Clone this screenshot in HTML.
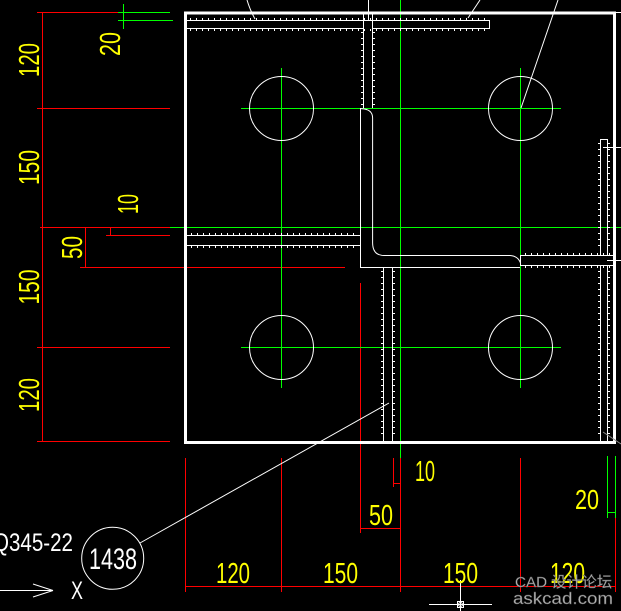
<!DOCTYPE html>
<html><head><meta charset="utf-8"><style>
html,body{margin:0;padding:0;background:#000;overflow:hidden;}
svg{display:block}
text{font-family:"Liberation Sans","Noto Sans CJK SC",sans-serif;}
</style></head><body>
<svg width="621" height="611" viewBox="0 0 621 611" xmlns="http://www.w3.org/2000/svg">
<rect width="621" height="611" fill="#000"/>
<g shape-rendering="crispEdges" stroke-width="1" fill="none">
<!-- left dimension -->
<g stroke="#ff0000">
<line x1="42.5" y1="12" x2="42.5" y2="442"/>
<line x1="37" y1="12.5" x2="118" y2="12.5"/>
<line x1="37" y1="108.5" x2="170" y2="108.5"/>
<line x1="37" y1="347.5" x2="170" y2="347.5"/>
<line x1="37" y1="441.5" x2="170" y2="441.5"/>
<line x1="40" y1="227.5" x2="170" y2="227.5"/>
<line x1="106" y1="235.5" x2="170" y2="235.5"/>
<line x1="110.5" y1="227" x2="110.5" y2="236"/>
<line x1="85.5" y1="227" x2="85.5" y2="268"/>
<line x1="80" y1="267.5" x2="345" y2="267.5"/>
<line x1="360.5" y1="283" x2="360.5" y2="533"/>
<line x1="360" y1="528.5" x2="400" y2="528.5"/>
<!-- bottom dimension -->
<line x1="185" y1="586.5" x2="616" y2="586.5"/>
<line x1="185.5" y1="458" x2="185.5" y2="592"/>
<line x1="281.5" y1="458" x2="281.5" y2="592"/>
<line x1="400.5" y1="458" x2="400.5" y2="592"/>
<line x1="520.5" y1="458" x2="520.5" y2="592"/>
<line x1="615.5" y1="518" x2="615.5" y2="592"/>
<line x1="393.5" y1="458" x2="393.5" y2="487"/>
<line x1="393" y1="483.5" x2="400" y2="483.5"/>
</g>
<!-- green lines -->
<g stroke="#00ff00">
<line x1="123.5" y1="4" x2="123.5" y2="29"/>
<line x1="118" y1="12.5" x2="170" y2="12.5"/>
<line x1="118" y1="20.5" x2="173" y2="20.5"/>
<line x1="170" y1="227.5" x2="621" y2="227.5"/>
<line x1="400.5" y1="0" x2="400.5" y2="458"/>
<line x1="520.5" y1="68" x2="520.5" y2="388"/>
<line x1="281.5" y1="68" x2="281.5" y2="388"/>
<line x1="241" y1="108.5" x2="561" y2="108.5"/>
<line x1="241" y1="347.5" x2="561" y2="347.5"/>
<line x1="607.5" y1="456" x2="607.5" y2="518"/>
<line x1="615.5" y1="456" x2="615.5" y2="518"/>
<line x1="607" y1="512.5" x2="616" y2="512.5"/>
</g>
<!-- plate -->
<rect x="185.5" y="13" width="429" height="429.5" stroke="#fff" stroke-width="3"/>
<g stroke="#fff">
<line x1="614" y1="12.5" x2="621" y2="12.5"/>
<line x1="603" y1="147.5" x2="621" y2="147.5"/>
<line x1="607" y1="260.5" x2="621" y2="260.5"/>
<!-- top horizontal stiffener -->
<line x1="187" y1="20.5" x2="489" y2="20.5"/>
<line x1="187" y1="28.5" x2="363" y2="28.5"/>
<line x1="373" y1="28.5" x2="489" y2="28.5"/>
<line x1="489.5" y1="20" x2="489.5" y2="29"/>
<line x1="190" y1="19" x2="489" y2="19" stroke-width="2" stroke-dasharray="1 5"/>
<line x1="190" y1="30" x2="489" y2="30" stroke-width="2" stroke-dasharray="1 5"/>
<!-- top vertical stiffener -->
<line x1="363.5" y1="13" x2="363.5" y2="108"/>
<line x1="372.5" y1="13" x2="372.5" y2="108"/>
<line x1="368.5" y1="0" x2="368.5" y2="20"/>
<line x1="362" y1="32" x2="362" y2="106" stroke-width="2" stroke-dasharray="1 5"/>
<line x1="374" y1="32" x2="374" y2="106" stroke-width="2" stroke-dasharray="1 5"/>
<!-- middle-left stiffener -->
<line x1="187" y1="235.5" x2="360" y2="235.5"/>
<line x1="187" y1="245.5" x2="360" y2="245.5"/>
<line x1="191" y1="234" x2="358" y2="234" stroke-width="2" stroke-dasharray="1 5"/>
<line x1="191" y1="247" x2="358" y2="247" stroke-width="2" stroke-dasharray="1 5"/>
<!-- right horizontal stiffener -->
<line x1="520" y1="255.5" x2="614" y2="255.5"/>
<line x1="520" y1="265.5" x2="614" y2="265.5"/>
<line x1="520.5" y1="255" x2="520.5" y2="266"/>
<line x1="525" y1="254" x2="612" y2="254" stroke-width="2" stroke-dasharray="1 5"/>
<line x1="525" y1="267" x2="612" y2="267" stroke-width="2" stroke-dasharray="1 5"/>
<!-- right vertical stiffener -->
<line x1="600.5" y1="139" x2="600.5" y2="255"/>
<line x1="607.5" y1="139" x2="607.5" y2="255"/>
<line x1="600.5" y1="266" x2="600.5" y2="441"/>
<line x1="607.5" y1="266" x2="607.5" y2="441"/>
<line x1="600" y1="139.5" x2="608" y2="139.5"/>
<line x1="599" y1="143" x2="599" y2="251" stroke-width="2" stroke-dasharray="1 5"/>
<line x1="609" y1="143" x2="609" y2="251" stroke-width="2" stroke-dasharray="1 5"/>
<line x1="599" y1="271" x2="599" y2="439" stroke-width="2" stroke-dasharray="1 5"/>
<line x1="609" y1="271" x2="609" y2="439" stroke-width="2" stroke-dasharray="1 5"/>
<!-- lower center stiffener -->
<line x1="383.5" y1="267" x2="383.5" y2="441"/>
<line x1="392.5" y1="267" x2="392.5" y2="441"/>
<line x1="382" y1="271" x2="382" y2="439" stroke-width="2" stroke-dasharray="1 5"/>
<line x1="394" y1="271" x2="394" y2="439" stroke-width="2" stroke-dasharray="1 5"/>
<!-- angle -->
<path d="M360.5 108 L360.5 267.5 L520 267.5"/>
</g>
</g>
<g stroke="#fff" stroke-width="1" fill="none">
<path d="M361 108.6 Q372.6 109 372.6 118 L372.6 243 Q372.8 255.5 384 255.5 L510 255.5 Q518 256 520.5 263"/>
<circle cx="281.5" cy="108.5" r="32"/>
<circle cx="520.5" cy="108.5" r="32"/>
<circle cx="281.5" cy="347.5" r="32"/>
<circle cx="520.5" cy="347.5" r="32"/>
<path d="M247 0 Q250 10 255 19"/>
<line x1="480" y1="0" x2="468" y2="18"/>
<line x1="558" y1="0" x2="521" y2="108"/>
<line x1="389" y1="403" x2="140" y2="543"/>
<circle cx="112.7" cy="558.3" r="31"/>
<line x1="0" y1="590.5" x2="53" y2="590.5"/>
<line x1="33" y1="584" x2="53" y2="590.5"/>
<line x1="33" y1="597" x2="53" y2="590.5"/>
<line x1="603" y1="432" x2="621" y2="444" stroke="#888"/>
<line x1="429" y1="604.5" x2="492" y2="604.5"/>
<line x1="460.5" y1="580" x2="460.5" y2="611"/>
<rect x="457.5" y="601.5" width="6" height="6"/>
<circle cx="460.5" cy="604.5" r="2"/>
</g>
<!-- yellow texts -->
<g fill="#ffff00" font-size="29" text-anchor="middle">
<text transform="translate(39,60) rotate(-90)" textLength="34" lengthAdjust="spacingAndGlyphs">120</text>
<text transform="translate(39,167.5) rotate(-90)" textLength="35" lengthAdjust="spacingAndGlyphs">150</text>
<text transform="translate(39,287) rotate(-90)" textLength="35" lengthAdjust="spacingAndGlyphs">150</text>
<text transform="translate(39,395) rotate(-90)" textLength="34" lengthAdjust="spacingAndGlyphs">120</text>
<text transform="translate(138,204) rotate(-90)" textLength="20" lengthAdjust="spacingAndGlyphs">10</text>
<text transform="translate(82,247.5) rotate(-90)" textLength="23" lengthAdjust="spacingAndGlyphs">50</text>
<text transform="translate(120,44) rotate(-90)" textLength="24" lengthAdjust="spacingAndGlyphs">20</text>
<text x="233" y="583" textLength="34" lengthAdjust="spacingAndGlyphs">120</text>
<text x="340.5" y="583" textLength="35" lengthAdjust="spacingAndGlyphs">150</text>
<text x="460.5" y="583" textLength="35" lengthAdjust="spacingAndGlyphs">150</text>
<text x="567.5" y="583" textLength="35" lengthAdjust="spacingAndGlyphs">120</text>
<text x="425" y="481" textLength="20" lengthAdjust="spacingAndGlyphs">10</text>
<text x="381" y="525" textLength="24" lengthAdjust="spacingAndGlyphs">50</text>
<text x="587" y="509" font-size="28" textLength="24" lengthAdjust="spacingAndGlyphs">20</text>
</g>
<!-- white texts -->
<g fill="#fff">
<text x="113" y="569" font-size="30" text-anchor="middle" textLength="48" lengthAdjust="spacingAndGlyphs">1438</text>
<text x="-7" y="551" font-size="25" textLength="80" lengthAdjust="spacingAndGlyphs">Q345-22</text>
<text x="77" y="599" font-size="25" text-anchor="middle" textLength="12" lengthAdjust="spacingAndGlyphs">X</text>
</g>
<!-- watermark -->
<g fill="#b4b4b4" stroke="#555" stroke-width="0.4">
<text x="515" y="587" font-size="15" textLength="97" lengthAdjust="spacingAndGlyphs">CAD 设计论坛</text>
<text x="513" y="604" font-size="17" textLength="100" lengthAdjust="spacingAndGlyphs">askcad.com</text>
</g>
</svg>
</body></html>
